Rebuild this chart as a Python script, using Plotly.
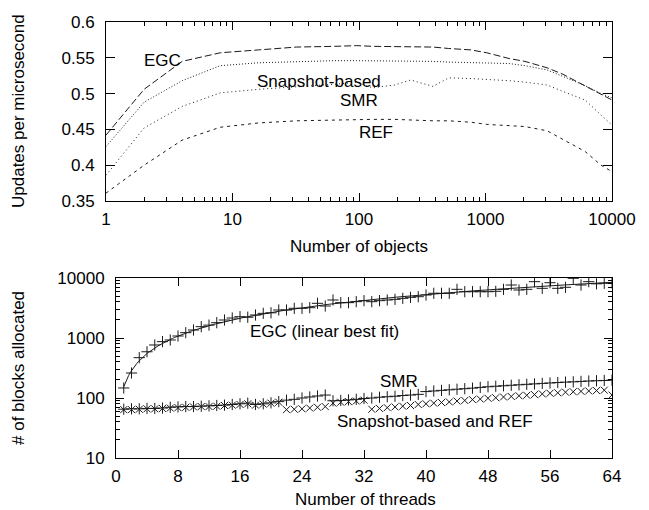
import numpy as np
import plotly.graph_objects as go

# ---------------- data: top panel ----------------
objects = [1, 2, 4, 8, 16, 32, 64, 96, 128, 192, 256, 384, 512, 768, 1024,
           1536, 2048, 3072, 4096, 6144, 8192, 10000]
egc_upd = [0.442, 0.506, 0.545, 0.557, 0.561, 0.565, 0.566, 0.567, 0.566, 0.566, 0.566,
           0.565, 0.563, 0.561, 0.557, 0.549, 0.545, 0.536, 0.527, 0.511, 0.499, 0.491]
snap_upd = [0.426, 0.488, 0.518, 0.539, 0.543, 0.545, 0.546, 0.546, 0.546, 0.545, 0.545,
            0.545, 0.544, 0.543, 0.543, 0.542, 0.539, 0.533, 0.524, 0.511, 0.500, 0.494]
smr_upd = [0.386, 0.452, 0.482, 0.501, 0.506, 0.509, 0.513, 0.516, 0.508, 0.512, 0.519,
           0.510, 0.522, 0.521, 0.520, 0.518, 0.516, 0.512, 0.503, 0.491, 0.470, 0.456]
ref_upd = [0.361, 0.400, 0.435, 0.453, 0.459, 0.462, 0.463, 0.464, 0.464, 0.464, 0.463,
           0.462, 0.462, 0.460, 0.457, 0.455, 0.454, 0.448, 0.436, 0.419, 0.400, 0.391]
top_xticks = [1, 10, 100, 1000, 10000]
top_xticklabels = ["1", "10", "100", "1000", "10000"]

# ---------------- data: bottom panel ----------------
threads = list(range(1, 65))
egc_blocks = [147, 261, 470, 590, 765, 870, 927, 1080, 1227, 1360, 1545, 1640, 1800, 1995,
              2154, 2265, 2220, 2416, 2575, 2630, 2930, 2930, 3125, 3125, 3200, 3785, 3415,
              4300, 3880, 3880, 4030, 4190, 4030, 4190, 4300, 4410, 4580, 4760, 4880, 5210,
              5560, 5560, 5560, 6475, 5910, 5910, 5910, 5910, 6000, 6475, 7640, 6310, 6475,
              8690, 6730, 8350, 6730, 7000, 9880, 7640, 8690, 8000, 8170, 8300]
smr_blocks = [65, 66, 66, 67, 67, 68, 70, 71, 72, 72, 73, 74, 75, 76, 78, 80, 82, 78, 80, 83,
              87, 92, 95, 100, 104, 108, 112, 90, 91, 93, 95, 98, 100, 103, 105, 107, 110,
              112, 115, 128, 131, 134, 137, 140, 143, 146, 150, 154, 157, 160, 163, 166,
              169, 172, 175, 178, 181, 184, 186, 189, 192, 194, 196, 198]
snapref_blocks = [64, 64, 65, 66, 66, 67, 68, 69, 70, 71, 72, 72, 73, 75, 76, 78, 80, 76, 79,
                  82, 85, 64, 65, 66, 68, 70, 72, 82, 85, 87, 89, 92, 65, 67, 69, 71, 73, 75,
                  78, 80, 82, 84, 86, 89, 91, 94, 96, 99, 101, 104, 106, 109, 111, 114, 117,
                  120, 122, 125, 127, 129, 131, 133, 135, 112]
bot_yticks = [10, 100, 1000, 10000]
bot_yticklabels = ["10", "100", "1000", "10000"]

# ---------------- layout helpers (pixel -> paper) ----------------
W, H = 649, 510
def pxx(x):
    return x / W
def pxy(y):
    return 1 - y / H

FONT = "Liberation Sans, Arial, Helvetica, sans-serif"
LC = "#1a1a1a"

fig = go.Figure()

# top panel lines
fig.add_trace(go.Scatter(x=objects, y=egc_upd, mode="lines", name="EGC",
                         line=dict(color=LC, width=1, dash="7px,3px"), xaxis="x", yaxis="y"))
fig.add_trace(go.Scatter(x=objects, y=snap_upd, mode="lines", name="Snapshot-based",
                         line=dict(color=LC, width=1, dash="1px,2px"), xaxis="x", yaxis="y"))
fig.add_trace(go.Scatter(x=objects, y=smr_upd, mode="lines", name="SMR",
                         line=dict(color=LC, width=1, dash="1px,3px"), xaxis="x", yaxis="y"))
fig.add_trace(go.Scatter(x=objects, y=ref_upd, mode="lines", name="REF",
                         line=dict(color=LC, width=1, dash="3px,4px"), xaxis="x", yaxis="y"))

# bottom panel
coef = np.polyfit(threads, egc_blocks, 1)
fit_x = np.linspace(threads[0], threads[-1], 300)
fit_y = np.polyval(coef, fit_x)
fig.add_trace(go.Scatter(x=fit_x, y=fit_y, mode="lines", name="EGC fit",
                         line=dict(color=LC, width=1), xaxis="x2", yaxis="y2"))
fig.add_trace(go.Scatter(x=threads, y=egc_blocks, mode="markers", name="EGC",
                         marker=dict(symbol="cross-thin", size=8, line=dict(color=LC, width=1)),
                         xaxis="x2", yaxis="y2"))
fig.add_trace(go.Scatter(x=threads, y=snapref_blocks, mode="markers", name="Snapshot-based and REF",
                         marker=dict(symbol="x-thin", size=7, line=dict(color=LC, width=1)),
                         xaxis="x2", yaxis="y2"))
fig.add_trace(go.Scatter(x=threads, y=smr_blocks, mode="markers", name="SMR",
                         marker=dict(symbol="cross-thin", size=8, line=dict(color=LC, width=1)),
                         xaxis="x2", yaxis="y2"))

axis_common = dict(showline=True, linecolor="black", linewidth=1, mirror="allticks",
                   ticks="inside", tickcolor="black", tickwidth=1, showgrid=False,
                   zeroline=False, tickfont=dict(family=FONT, size=17, color="black"),
                   automargin=False)

fig.update_layout(
    width=W, height=H,
    margin=dict(l=0, r=0, t=0, b=0),
    paper_bgcolor="white", plot_bgcolor="white",
    showlegend=False,
    font=dict(family=FONT, size=17, color="black"),
    xaxis=dict(axis_common, type="log", range=[0, 4], domain=[pxx(106), pxx(612)],
               tickvals=top_xticks, ticktext=top_xticklabels, ticklen=8,
               ticklabelstandoff=3,
               minor=dict(ticks="inside", ticklen=4, dtick="D1", tickcolor="black", showgrid=False),
               anchor="y"),
    yaxis=dict(axis_common, range=[0.35, 0.6], dtick=0.05, tick0=0.35, ticklen=9,
               domain=[pxy(201), pxy(22)], ticklabelstandoff=7, anchor="x"),
    xaxis2=dict(axis_common, range=[0, 64], dtick=8, tick0=0, ticklen=8,
                domain=[pxx(116), pxx(612)], ticklabelstandoff=3, anchor="y2"),
    yaxis2=dict(axis_common, type="log", range=[1, 4], tickvals=bot_yticks,
                ticktext=bot_yticklabels, ticklen=8, ticklabelstandoff=7,
                minor=dict(ticks="inside", ticklen=4, dtick="D1", tickcolor="black", showgrid=False),
                domain=[pxy(458), pxy(278)], anchor="x2"),
)

def label(text, x, y, angle=0):
    fig.add_annotation(text=text, x=pxx(x), y=pxy(y), xref="paper", yref="paper",
                       showarrow=False, xanchor="center", yanchor="middle", textangle=angle,
                       font=dict(family=FONT, size=17, color="black"))

label("EGC", 162, 60)
label("Snapshot-based", 319, 81)
label("SMR", 359, 101)
label("REF", 376, 133)
label("EGC (linear best fit)", 324, 331)
label("SMR", 399, 381)
label("Snapshot-based and REF", 435, 421)
label("Number of objects", 359, 246)
label("Number of threads", 366, 499)
label("Updates per microsecond", 18, 111, -90)
label("# of blocks allocated", 18, 368, -90)

fig.write_html("out.html", config={"displayModeBar": False},
               post_script="document.body.style.margin='0';document.body.style.overflow='hidden';")
